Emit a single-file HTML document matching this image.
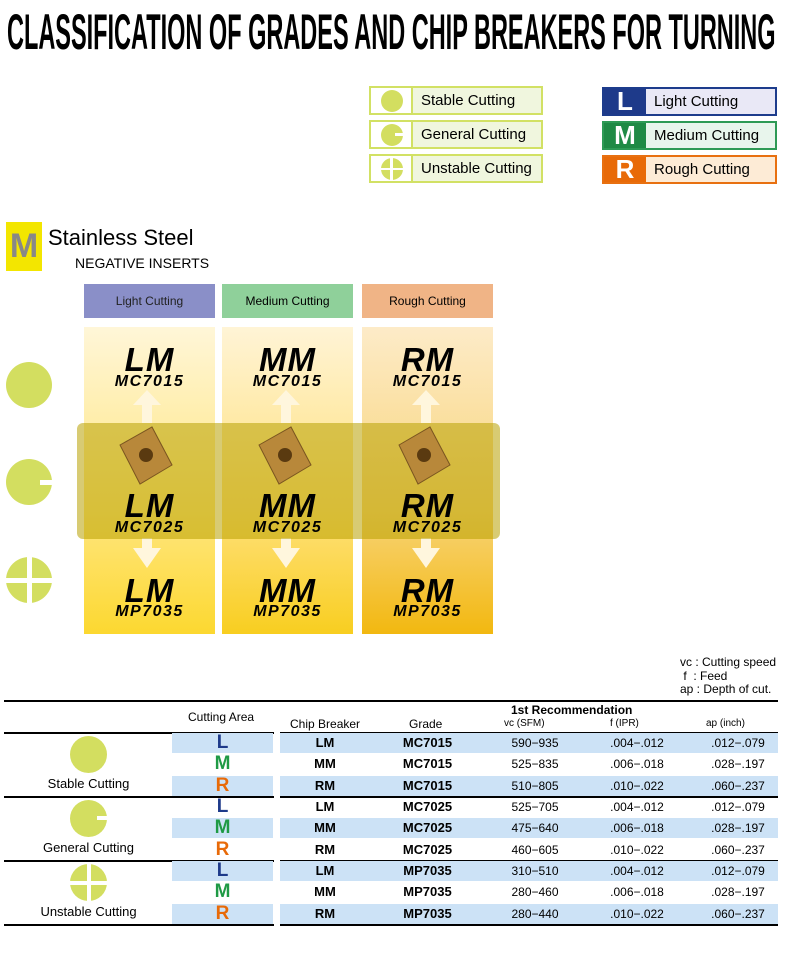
<!DOCTYPE html>
<html><head><meta charset="utf-8"><style>
*{margin:0;padding:0;box-sizing:border-box}
body{width:800px;height:964px;background:#fff;position:relative;overflow:hidden;font-family:"Liberation Sans",sans-serif;color:#000}
.a{position:absolute}
.title{left:7px;top:3px;font-size:50px;font-weight:bold;white-space:nowrap;transform-origin:0 0;transform:scaleX(0.47);letter-spacing:0px}
.lg{position:absolute;height:29px;border:2px solid #d2e164;background:#f0f6de;font-size:15px;line-height:25px;padding-left:50px}
.lg .ic{position:absolute;left:0;top:0;width:42px;height:25px;background:#fff;border-right:2px solid #d2e164}
.lr{position:absolute;height:29px;border:2px solid;font-size:15px;line-height:25px;padding-left:50px}
.lr .ic{position:absolute;left:0;top:0;width:42px;height:25px;color:#fff;font-weight:bold;font-size:26px;line-height:25px;text-align:center}
.hdr{position:absolute;top:284px;width:131px;height:34px;font-size:12px;text-align:center;line-height:34px}
.col{position:absolute;top:327px;width:131px;height:307px}
.big{position:absolute;width:131px;text-align:center;font-weight:bold;font-style:italic;font-size:33px;line-height:30px;letter-spacing:1px}
.sm{position:absolute;width:131px;text-align:center;font-weight:bold;font-style:italic;font-size:16px;line-height:16px;letter-spacing:1.5px}
.circ{position:absolute;border-radius:50%;background:#d3de60}
.c{position:absolute;font-size:12px;text-align:center;line-height:20px}
.b{font-weight:bold;font-size:13px}
</style></head><body>
<div class="a title">CLASSIFICATION OF GRADES AND CHIP BREAKERS FOR TURNING</div>

<div class="lg" style="left:369px;top:86px;width:174px"><div class="ic"><div class="circ" style="left:10px;top:2px;width:22px;height:22px"></div></div>Stable Cutting</div>
<div class="lg" style="left:369px;top:120px;width:174px"><div class="ic"><div class="circ" style="left:10px;top:2px;width:22px;height:22px"></div><div class="a" style="left:24px;top:11px;width:10px;height:3px;background:#fff"></div></div>General Cutting</div>
<div class="lg" style="left:369px;top:154px;width:174px"><div class="ic"><div class="circ" style="left:10px;top:2px;width:22px;height:22px"></div><div class="a" style="left:19px;top:1px;width:3px;height:24px;background:#fff"></div><div class="a" style="left:9px;top:12px;width:24px;height:2px;background:#fff"></div></div>Unstable Cutting</div>

<div class="lr" style="left:602px;top:87px;width:175px;border-color:#1d3c8c;background:#e9e8f6"><div class="ic" style="background:#1e3a8a">L</div>Light Cutting</div>
<div class="lr" style="left:602px;top:121px;width:175px;border-color:#2d9a55;background:#e8f5ec"><div class="ic" style="background:#1f8a45">M</div>Medium Cutting</div>
<div class="lr" style="left:602px;top:155px;width:175px;border-color:#e87010;background:#fdebd6"><div class="ic" style="background:#e86a08">R</div>Rough Cutting</div>

<div class="a" style="left:6px;top:222px;width:36px;height:49px;background:#f3e600;font-weight:bold;font-size:34px;line-height:49px;text-align:center;color:#888">M</div>
<div class="a" style="left:48px;top:225px;font-size:22px">Stainless Steel</div>
<div class="a" style="left:75px;top:255px;font-size:14px">NEGATIVE INSERTS</div>

<div class="hdr" style="left:84px;background:#8a8fc8;color:#222">Light Cutting</div>
<div class="hdr" style="left:222px;background:#8fd09a">Medium Cutting</div>
<div class="hdr" style="left:362px;background:#f0b486">Rough Cutting</div>

<div class="col" style="left:84px;background:linear-gradient(#fff6d8,#ffe680 60%,#fcd830)"></div>
<div class="col" style="left:222px;background:linear-gradient(#fff4d6,#ffe07a 60%,#f8ce20)"></div>
<div class="col" style="left:362px;background:linear-gradient(#fdebc8,#f8d478 60%,#f2b810)"></div>

<svg class="a" style="left:0;top:0" width="800" height="700">
<g fill="#fff6dd">
<path d="M133 405 L147 390 L161 405 L152 405 L152 423 L142 423 L142 405Z"/>
<path d="M272 405 L286 390 L300 405 L291 405 L291 423 L281 423 L281 405Z"/>
<path d="M412 405 L426 390 L440 405 L431 405 L431 423 L421 423 L421 405Z"/>
<path d="M133 548 L147 568 L161 548 L152 548 L152 538 L142 538 L142 548Z"/>
<path d="M272 548 L286 568 L300 548 L291 548 L291 538 L281 538 L281 548Z"/>
<path d="M412 548 L426 568 L440 548 L431 548 L431 538 L421 538 L421 548Z"/>
</g>
<rect x="77" y="423" width="423" height="116" rx="6" fill="#b8a000" fill-opacity="0.55"/>
<g fill="#b8883a" stroke="#7a5520" stroke-width="1">
<path d="M120 445 L152 427 L172 465 L140 484Z"/>
<path d="M259 445 L291 427 L311 465 L279 484Z"/>
<path d="M399 445 L430 427 L450 465 L418 484Z"/>
</g>
<g fill="#5a3a10"><circle cx="146" cy="455" r="7"/><circle cx="285" cy="455" r="7"/><circle cx="424" cy="455" r="7"/></g>
</svg>

<div class="big" style="left:84px;top:345px">LM</div><div class="sm" style="left:84px;top:374px">MC7015</div>
<div class="big" style="left:222px;top:345px">MM</div><div class="sm" style="left:222px;top:374px">MC7015</div>
<div class="big" style="left:362px;top:345px">RM</div><div class="sm" style="left:362px;top:374px">MC7015</div>
<div class="big" style="left:84px;top:491px">LM</div><div class="sm" style="left:84px;top:520px">MC7025</div>
<div class="big" style="left:222px;top:491px">MM</div><div class="sm" style="left:222px;top:520px">MC7025</div>
<div class="big" style="left:362px;top:491px">RM</div><div class="sm" style="left:362px;top:520px">MC7025</div>
<div class="big" style="left:84px;top:576px">LM</div><div class="sm" style="left:84px;top:604px">MP7035</div>
<div class="big" style="left:222px;top:576px">MM</div><div class="sm" style="left:222px;top:604px">MP7035</div>
<div class="big" style="left:362px;top:576px">RM</div><div class="sm" style="left:362px;top:604px">MP7035</div>

<div class="circ" style="left:6px;top:362px;width:46px;height:46px"></div>
<div class="circ" style="left:6px;top:459px;width:46px;height:46px"></div><div class="a" style="left:40px;top:480px;width:13px;height:5px;background:#fff"></div>
<div class="circ" style="left:6px;top:557px;width:46px;height:46px"></div><div class="a" style="left:27px;top:556px;width:5px;height:48px;background:#fff"></div><div class="a" style="left:5px;top:578px;width:48px;height:5px;background:#fff"></div>

<div class="a" style="left:680px;top:656px;font-size:12px;line-height:13.5px">vc : Cutting speed<br>&nbsp;f&nbsp; : Feed<br>ap : Depth of cut.</div>

<div class="a" style="left:4px;top:700px;width:774px;height:2px;background:#000"></div>
<div class="a" style="left:188px;top:710px;font-size:12px">Cutting Area</div>
<div class="a" style="left:290px;top:717px;font-size:12px">Chip Breaker</div>
<div class="a" style="left:409px;top:717px;font-size:12px">Grade</div>
<div class="a" style="left:511px;top:703px;font-size:12px;font-weight:bold">1st Recommendation</div>
<div class="a" style="left:504px;top:718px;font-size:10px">vc (SFM)</div>
<div class="a" style="left:610px;top:718px;font-size:10px">f (IPR)</div>
<div class="a" style="left:706px;top:718px;font-size:10px">ap (inch)</div>

<div id="tb"></div>
<script>
var g=[["Stable Cutting","MC7015",["590−935","525−835","510−805"],[1,0,1]],["General Cutting","MC7025",["525−705","475−640","460−605"],[0,1,0]],["Unstable Cutting","MP7035",["310−510","280−460","280−440"],[1,0,1]]];
var f=[".004−.012",".006−.018",".010−.022"],ap=[".012−.079",".028−.197",".060−.237"],cb=["LM","MM","RM"],lt=["L","M","R"],lc=["#1e3a8a","#1f9a45","#e86a08"];
var h="";
for(var i=0;i<3;i++){var y0=733+i*64;
h+='<div class="a" style="left:4px;top:'+(y0-1)+'px;width:270px;height:1.5px;background:#000"></div><div class="a" style="left:280px;top:'+(y0-1)+'px;width:498px;height:1.5px;background:#000"></div>';
for(var r=0;r<3;r++){var y=y0+r*21.3;
if(g[i][3][r])h+='<div class="a" style="left:172px;top:'+y+'px;width:101px;height:20px;background:#cce2f6"></div><div class="a" style="left:280px;top:'+y+'px;width:498px;height:20px;background:#cce2f6"></div>';
h+='<div class="c" style="left:172px;top:'+y+'px;width:101px;font-weight:bold;font-size:19px;color:'+lc[r]+'">'+lt[r]+'</div>';
h+='<div class="c b" style="left:280px;top:'+y+'px;width:90px">'+cb[r]+'</div>';
h+='<div class="c b" style="left:380px;top:'+y+'px;width:95px">'+g[i][1]+'</div>';
h+='<div class="c" style="left:490px;top:'+y+'px;width:90px">'+g[i][2][r]+'</div>';
h+='<div class="c" style="left:592px;top:'+y+'px;width:90px">'+f[r]+'</div>';
h+='<div class="c" style="left:693px;top:'+y+'px;width:90px">'+ap[r]+'</div>';}
h+='<div class="circ" style="left:70px;top:'+(y0+3)+'px;width:37px;height:37px"></div>';
if(i==1)h+='<div class="a" style="left:97px;top:'+(y0+19)+'px;width:11px;height:4px;background:#fff"></div>';
if(i==2)h+='<div class="a" style="left:87px;top:'+(y0+2)+'px;width:4px;height:39px;background:#fff"></div><div class="a" style="left:69px;top:'+(y0+20)+'px;width:39px;height:4px;background:#fff"></div>';
h+='<div class="a" style="left:0;top:'+(y0+43)+'px;width:177px;text-align:center;font-size:13px">'+g[i][0]+'</div>';}
h+='<div class="a" style="left:4px;top:924px;width:270px;height:1.5px;background:#000"></div><div class="a" style="left:280px;top:924px;width:498px;height:1.5px;background:#000"></div>';
document.getElementById("tb").innerHTML=h;
</script>
</body></html>
